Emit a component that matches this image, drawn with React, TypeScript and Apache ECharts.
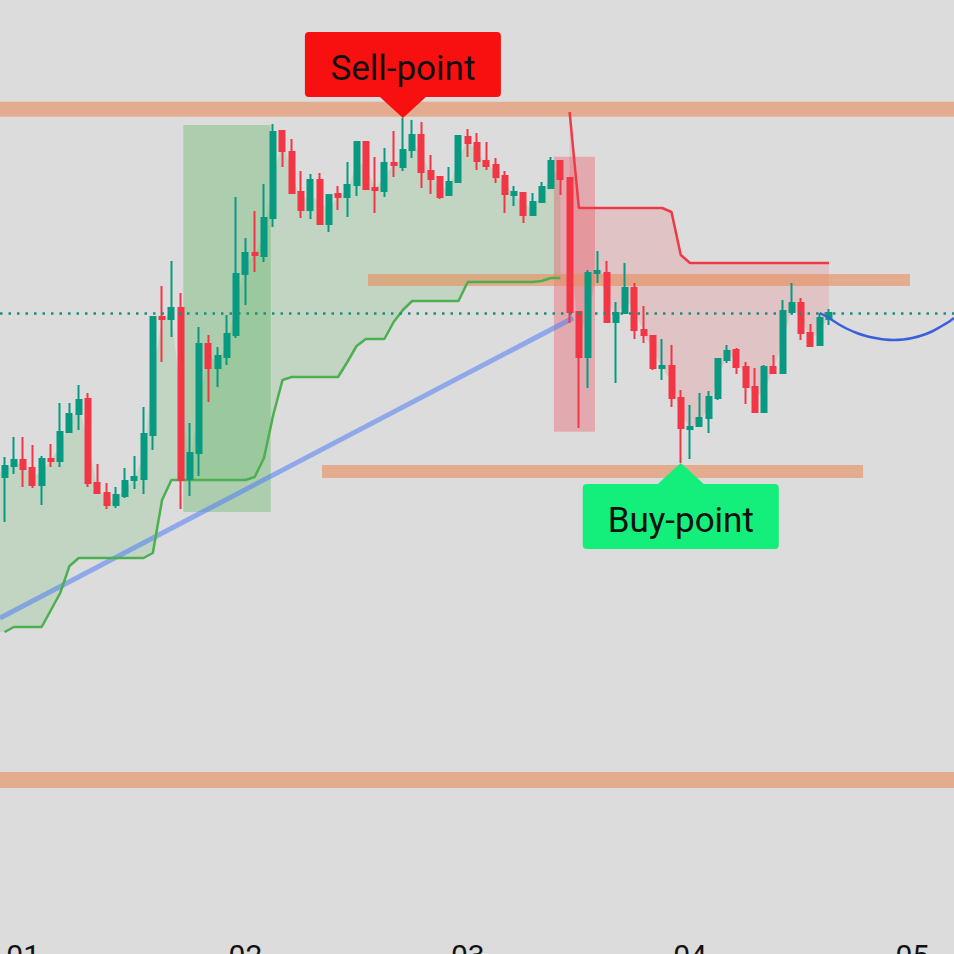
import React, { useEffect, useRef } from "react";
import * as echarts from "echarts";

// ---- categories (hourly candles, first candle at 22:00 of day "00") ----
const SLOT_COUNT = 103;
const FIRST_HOUR = 22;
const pad2 = (n: number) => (n < 10 ? "0" + n : "" + n);
const categories: string[] = Array.from({ length: SLOT_COUNT }, (_, i) => {
  const h = i + FIRST_HOUR;
  return `${pad2(Math.floor(h / 24))} ${pad2(h % 24)}:00`;
});

// ---- OHLC ----
const opens = [
  52.3, 53.4, 54.0, 53.2, 51.5, 54.1, 53.9, 56.8, 58.6, 60.1,
  51.7, 50.7, 49.5, 50.4, 52.0, 52.1, 56.5, 68.3, 68.1, 69.2,
  52.1, 54.7, 65.6, 63.2, 64.3, 66.5, 72.6, 74.7, 74.4, 78.2,
  86.9, 84.8, 80.8, 79.0, 82.0, 77.6, 80.6, 80.3, 81.5, 85.8,
  81.2, 80.9, 83.7, 83.3, 85.0, 86.5, 82.9, 82.3, 80.5, 81.8,
  86.3, 85.7, 83.9, 83.5, 82.4, 80.5, 80.7, 78.5, 79.8, 81.2,
  83.9, 82.2, 68.8, 64.3, 72.7, 72.7, 67.8, 68.7, 71.2, 67.0,
  66.4, 63.2, 63.4, 60.2, 57.1, 57.4, 58.2, 60.2, 64.0, 65.0,
  63.3, 61.3, 58.8, 63.3, 62.7, 68.8, 69.7, 66.7, 65.5, 68.1,
];
const closes = [
  53.4, 54.0, 53.1, 51.5, 54.1, 53.9, 56.8, 58.6, 60.0, 51.7,
  50.7, 49.5, 50.5, 51.9, 52.3, 56.6, 68.3, 68.1, 69.2, 52.0,
  54.7, 65.6, 63.2, 64.4, 66.6, 72.6, 74.7, 74.5, 78.2, 86.8,
  84.9, 80.7, 79.0, 82.0, 77.6, 80.5, 80.3, 81.5, 85.8, 81.1,
  81.0, 83.7, 83.5, 85.0, 86.5, 82.8, 82.1, 80.3, 81.8, 86.4,
  85.7, 83.9, 83.4, 82.3, 80.6, 80.8, 78.5, 79.8, 81.3, 83.9,
  82.1, 68.8, 64.3, 72.7, 72.9, 67.8, 68.7, 71.2, 67.0, 66.5,
  63.2, 63.4, 60.2, 57.2, 57.3, 58.2, 60.3, 64.1, 64.9, 63.3,
  61.3, 58.8, 63.3, 62.7, 68.9, 69.7, 66.7, 65.4, 68.2, 68.7,
];
const lows = [
  47.8, 52.6, 51.3, 51.2, 49.5, 53.3, 53.3, 56.8, 57.0, 51.3,
  50.6, 49.1, 49.2, 50.2, 51.1, 50.6, 55.0, 63.8, 66.3, 49.1,
  50.4, 52.4, 59.8, 61.3, 63.5, 66.2, 69.5, 72.8, 73.8, 77.3,
  83.3, 80.6, 78.2, 78.1, 77.5, 76.8, 79.0, 78.3, 80.4, 81.0,
  78.7, 80.3, 82.3, 82.9, 84.2, 81.2, 80.6, 80.1, 80.5, 81.8,
  84.3, 83.0, 83.0, 81.7, 78.7, 79.4, 77.7, 78.5, 79.8, 81.2,
  80.5, 67.7, 57.2, 61.2, 71.7, 67.8, 61.7, 68.7, 66.1, 65.7,
  63.0, 62.0, 59.3, 53.7, 54.1, 57.4, 56.7, 60.0, 63.7, 62.6,
  59.6, 58.7, 58.8, 62.7, 62.7, 68.8, 66.0, 65.3, 65.5, 67.5,
];
const highs = [
  54.3, 56.3, 56.3, 55.5, 54.4, 55.6, 59.7, 59.7, 61.5, 60.7,
  53.6, 51.7, 51.3, 53.2, 54.4, 59.3, 68.3, 71.4, 73.9, 70.7,
  57.7, 67.3, 66.5, 65.3, 68.5, 80.3, 76.2, 78.9, 81.6, 87.6,
  86.9, 86.1, 82.9, 82.6, 82.7, 80.6, 81.4, 83.8, 85.9, 85.9,
  84.3, 85.2, 86.9, 88.2, 88.0, 87.8, 84.5, 82.4, 83.3, 86.5,
  87.1, 86.7, 85.8, 84.2, 82.9, 81.4, 80.7, 80.7, 81.8, 84.3,
  83.9, 82.2, 68.9, 73.0, 74.9, 73.9, 69.8, 73.7, 71.7, 69.4,
  66.5, 66.1, 65.5, 61.0, 59.5, 60.7, 60.9, 64.2, 65.5, 65.2,
  63.8, 63.2, 63.5, 64.5, 70.0, 71.7, 70.2, 67.6, 68.7, 69.1,
];

// ---- Supertrend ----
const superUp = [
  36.8, 37.3, 37.3, 37.3, 37.3, 39.0, 40.7, 43.4, 44.2, 44.2,
  44.2, 44.2, 44.2, 44.2, 44.2, 44.2, 44.7, 50.0, 52.0, 52.0,
  52.0, 52.0, 52.0, 52.0, 52.0, 52.0, 52.0, 52.3, 54.2, 58.5,
  62.0, 62.3, 62.3, 62.3, 62.3, 62.3, 62.3, 63.8, 65.4, 66.1,
  66.1, 66.1, 67.8, 69.0, 69.9, 69.9, 69.9, 69.9, 69.9, 69.9,
  71.8, 71.8, 71.8, 71.8, 71.8, 71.8, 71.8, 71.8, 71.9, 72.2,
  72.2,
];
const SUPER_DOWN_START = 61;
const superDown = [
  88.8, 79.2, 79.2, 79.2, 79.2, 79.2, 79.2, 79.2, 79.2, 79.2,
  79.2, 78.8, 74.5, 73.7, 73.7, 73.7, 73.7, 73.7, 73.7, 73.7,
  73.7, 73.7, 73.7, 73.7, 73.7, 73.7, 73.7, 73.7, 73.7,
];

// ---- drawings ----
const trendX = [-0.5, 61.37];
const trendY = [38.2, 68.2];
const forecastX = [88, 89, 90, 91, 92, 93, 94, 95, 96, 97, 98, 99, 100, 101, 102, 102.5];
const forecastY = [68.7, 68.2, 67.6, 67.1, 66.7, 66.4, 66.2, 66.05, 66.0, 66.05, 66.2, 66.45, 66.8, 67.3, 67.85, 68.2];

const bandStart = [-0.5, 39.23, 34.27, -0.5];
const bandEnd = [102.5, 97.75, 92.68, 102.5];
const bandLow = [88.33, 71.4, 52.2, 21.2];
const bandHigh = [89.83, 72.6, 53.5, 22.8];

const boxStart = [19.29, 59.31];
const boxEnd = [28.73, 63.74];
const boxLow = [48.8, 56.83];
const boxHigh = [87.5, 84.33];
const boxColor = ["rgba(76,175,80,0.32)", "rgba(242,54,69,0.3)"];

const signalIndex = [43, 73];
const signalSide = ["sell", "buy"];
const signalText = ["Sell-point", "Buy-point"];

export default function App() {
  const ref = useRef<HTMLDivElement>(null);
  useEffect(() => {
    if (!ref.current) return;
    const chart = echarts.init(ref.current, undefined, { renderer: "svg" });
    const mid = (i: number) => (opens[i] + closes[i]) / 2;

    const fillItem = (kind: "up" | "down") => (params: any, api: any) => {
      const top: number[][] = [];
      const bottom: number[][] = [];
      if (kind === "up") {
        for (let i = 0; i < superUp.length; i++) {
          bottom.push(api.coord([i, superUp[i]]));
          top.push(api.coord([i, mid(i)]));
        }
        // extend to the left edge of the plot
        const edge = api.coord([-0.5, 0])[0];
        bottom.unshift([edge, bottom[0][1]]);
        top.unshift([edge, top[0][1]]);
      } else {
        for (let k = 0; k < superDown.length; k++) {
          top.push(api.coord([SUPER_DOWN_START + k, superDown[k]]));
          bottom.push(api.coord([SUPER_DOWN_START + k, mid(SUPER_DOWN_START + k)]));
        }
      }
      const pts = top.concat(bottom.slice().reverse());
      return {
        type: "polygon",
        shape: { points: pts },
        style: { fill: kind === "up" ? "rgba(76,175,80,0.18)" : "rgba(242,54,69,0.15)" },
      };
    };

    const rectItem = (starts: number[], ends: number[], lo: number[], hi: number[], color: (i: number) => string) =>
      (params: any, api: any) => {
        const i = params.dataIndex;
        const a = api.coord([starts[i], hi[i]]);
        const b = api.coord([ends[i], lo[i]]);
        return {
          type: "rect",
          shape: { x: a[0], y: a[1], width: b[0] - a[0], height: b[1] - a[1] },
          style: { fill: color(i) },
        };
      };

    const option: any = {
      animation: false,
      backgroundColor: "#dcdcdc",
      grid: { left: 0, right: 0, top: 0, bottom: 70, containLabel: false },
      xAxis: [
        {
          type: "category",
          data: categories,
          boundaryGap: true,
          axisLine: { show: false },
          axisTick: { show: false },
          splitLine: { show: false },
          axisLabel: {
            interval: (idx: number, val: string) => val.endsWith(" 00:00"),
            formatter: (val: string) => val.slice(0, 2),
            color: "#111111",
            fontSize: 30,
            fontFamily: "Roboto",
            margin: 10,
          },
        },
        { type: "value", min: -0.5, max: SLOT_COUNT - 0.5, show: false },
      ],
      yAxis: { type: "value", min: 7, max: 100, show: false, splitLine: { show: false } },
      series: [
        { type: "custom", xAxisIndex: 1, renderItem: fillItem("up"), data: [[0, superUp[0]]], z: 1 },
        { type: "custom", xAxisIndex: 1, renderItem: fillItem("down"), data: [[SUPER_DOWN_START, superDown[0]]], z: 1 },
        {
          type: "custom",
          xAxisIndex: 1,
          z: 1,
          renderItem: rectItem(boxStart, boxEnd, boxLow, boxHigh, (i) => boxColor[i]),
          data: boxStart.map((s, i) => [s, boxHigh[i]]),
        },
        {
          type: "custom",
          xAxisIndex: 1,
          z: 1,
          renderItem: rectItem(bandStart, bandEnd, bandLow, bandHigh, () => "rgba(232,140,90,0.6)"),
          data: bandStart.map((s, i) => [s, bandHigh[i]]),
        },
        {
          type: "line",
          xAxisIndex: 1,
          z: 2,
          symbol: "none",
          data: trendX.map((x, i) => [x, trendY[i]]),
          lineStyle: { color: "rgba(80,125,245,0.55)", width: 5 },
        },
        {
          type: "line",
          xAxisIndex: 1,
          z: 2,
          symbol: "none",
          data: superUp.map((v, i) => [i, v]),
          lineStyle: { color: "#4caf50", width: 2.5 },
        },
        {
          type: "line",
          xAxisIndex: 1,
          z: 2,
          symbol: "none",
          data: superDown.map((v, k) => [SUPER_DOWN_START + k, v]),
          lineStyle: { color: "#ee3a48", width: 2.5 },
        },
        {
          type: "candlestick",
          xAxisIndex: 0,
          z: 3,
          barWidth: 5.5,
          data: opens.map((o, i) => [o, closes[i], lows[i], highs[i]]),
          itemStyle: {
            color: "#089981",
            color0: "#f23645",
            borderColor: "#089981",
            borderColor0: "#f23645",
            borderWidth: 2,
          },
          markLine: {
            silent: true,
            symbol: ["none", "none"],
            label: { show: false },
            lineStyle: { color: "#1b8f80", width: 2.5, type: [2.5, 6] },
            data: [{ yAxis: closes[closes.length - 1] }],
          },
        },
        {
          type: "line",
          xAxisIndex: 1,
          z: 4,
          symbol: "none",
          smooth: 0.3,
          data: forecastX.map((x, i) => [x, forecastY[i]]),
          lineStyle: { color: "#3a5fdc", width: 2.5 },
        },
        {
          type: "custom",
          xAxisIndex: 1,
          z: 5,
          data: signalIndex.map((idx, k) => [idx, signalSide[k] === "sell" ? highs[idx] : lows[idx]]),
          renderItem: (params: any, api: any) => {
            const i = params.dataIndex;
            const p = api.coord([api.value(0), api.value(1)]);
            const sell = signalSide[i] === "sell";
            const color = sell ? "#f80f0f" : "#14ef7b";
            const w = 196, h = 65, gap = 21, hw = 23;
            const baseY = sell ? p[1] - gap : p[1] + gap;
            const rectY = sell ? baseY - h : baseY;
            return {
              type: "group",
              children: [
                {
                  type: "polygon",
                  shape: { points: [[p[0] - hw, baseY], [p[0] + hw, baseY], [p[0], p[1]]] },
                  style: { fill: color },
                },
                {
                  type: "rect",
                  shape: { x: p[0] - w / 2, y: rectY, width: w, height: h, r: 4 },
                  style: { fill: color },
                },
                {
                  type: "text",
                  style: {
                    text: signalText[i],
                    x: p[0],
                    y: rectY + h / 2 + 4,
                    align: "center",
                    verticalAlign: "middle",
                    textAlign: "center",
                    textVerticalAlign: "middle",
                    fill: "#111111",
                    fontSize: 35,
                    fontFamily: "Roboto",
                  },
                },
              ],
            };
          },
        },
      ],
    };
    chart.setOption(option);
    return () => chart.dispose();
  }, []);

  return (
    <div
      style={{
        position: "fixed",
        left: 0,
        top: 0,
        width: 954,
        height: 954,
        overflow: "hidden",
        background: "#dcdcdc",
      }}
    >
      <div ref={ref} style={{ width: 954, height: 1000 }} />
    </div>
  );
}
